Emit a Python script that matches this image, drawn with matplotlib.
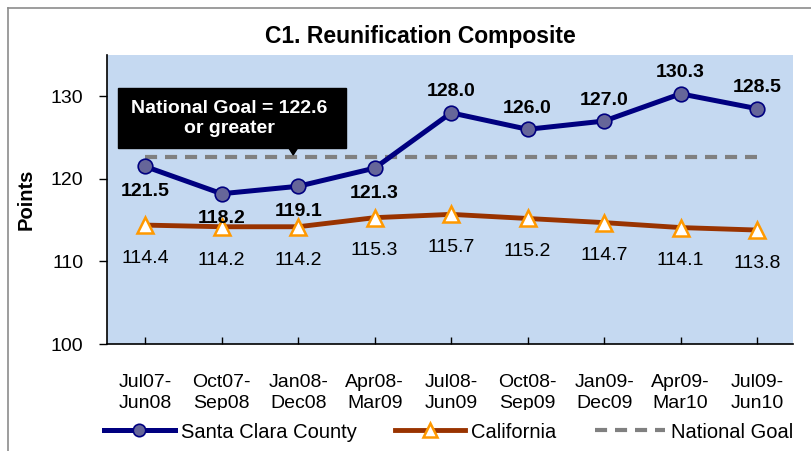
import numpy as np
import matplotlib.pyplot as plt
from matplotlib.patches import Polygon, Rectangle
from matplotlib.lines import Line2D

plt.rcParams['font.family'] = ['Liberation Sans', 'DejaVu Sans']

periods = ['Jul07-\nJun08', 'Oct07-\nSep08', 'Jan08-\nDec08', 'Apr08-\nMar09', 'Jul08-\nJun09',
           'Oct08-\nSep09', 'Jan09-\nDec09', 'Apr09-\nMar10', 'Jul09-\nJun10']
santa_clara = [121.5, 118.2, 119.1, 121.3, 128.0, 126.0, 127.0, 130.3, 128.5]
california = [114.4, 114.2, 114.2, 115.3, 115.7, 115.2, 114.7, 114.1, 113.8]
national_goal = 122.6

x = np.arange(len(periods))

fig = plt.figure(figsize=(8.12, 4.51), dpi=100)
W, H = 812, 451
# plot area in pixels: left 107, right 793, top 55, bottom 344
ax = fig.add_axes([107 / W, 1 - 344 / H, (793 - 107) / W, (344 - 55) / H])
ax.set_facecolor('#C5D9F1')

# chart border (gray frame of the chart object)
fig.add_artist(Line2D([8 / W, 8 / W], [0, 1 - 8 / H], color='#8C8C8C', lw=1.2, zorder=20))
fig.add_artist(Line2D([8 / W, 1], [1 - 8 / H, 1 - 8 / H], color='#8C8C8C', lw=1.2, zorder=20))

ax.plot(x, [national_goal] * len(x), color='#808080', lw=3, ls=(0, (2.9, 1.9)),
        label='National Goal', zorder=2)
ax.plot(x, california, color='#993300', lw=3.5, marker='^', ms=12,
        mfc='white', mec='#FF9900', mew=1.8, label='California', zorder=3)
ax.plot(x, santa_clara, color='#000080', lw=3.6, marker='o', ms=10.5,
        mfc='#666699', mec='#000080', mew=1.2, label='Santa Clara County', zorder=4)

for i, v in enumerate(santa_clara):
    if i < 4:
        ax.annotate(f'{v:.1f}', (i, v), xytext=(0, -12), textcoords='offset points',
                    ha='center', va='top', fontsize=14, fontweight='bold')
    else:
        ax.annotate(f'{v:.1f}', (i, v), xytext=(0, 9), textcoords='offset points',
                    ha='center', va='bottom', fontsize=14, fontweight='bold')

for i, v in enumerate(california):
    ax.annotate(f'{v:.1f}', (i, v), xytext=(0, -24), textcoords='offset points',
                ha='center', va='center', fontsize=14)

# callout box for the national goal
ax.add_patch(Rectangle((-0.353, 123.76), 2.98, 7.27, facecolor='black', edgecolor='black', zorder=5))
ax.add_patch(Polygon([[1.87, 123.85], [2.0, 123.85], [1.935, 122.9]], closed=True,
                     facecolor='black', edgecolor='black', zorder=5))
ax.text(1.1, 127.3, 'National Goal = 122.6\nor greater', color='white', ha='center',
        va='center', fontsize=14, fontweight='bold', linespacing=1.2, zorder=6)

ax.set_xlim(-0.5, 8.47)
ax.set_ylim(100, 135)
ax.set_yticks([100, 110, 120, 130])
ax.set_xticks(x)
ax.set_xticklabels(periods, fontsize=14, linespacing=1.35)
ax.tick_params(axis='y', labelsize=14, length=6, width=1, pad=11)
ax.tick_params(axis='x', length=5, width=1, direction='in', pad=21.5)
for s in ['top', 'right']:
    ax.spines[s].set_visible(False)
ax.spines['left'].set_linewidth(1.2)
ax.spines['bottom'].set_linewidth(1.2)

ax.set_ylabel('Points', fontsize=14.5, fontweight='bold', labelpad=11)
fig.text(420 / W, 1 - 37 / H, 'C1. Reunification Composite', ha='center', va='center',
         fontsize=16.5, fontweight='bold')

# the legend row hides the lower part of the two-line category labels
fig.add_artist(Rectangle((9 / W, 0), 1, (H - 410) / H, transform=fig.transFigure,
                         facecolor='white', edgecolor='none', zorder=8))

handles, labels = ax.get_legend_handles_labels()
order = [2, 1, 0]
leg = fig.legend([handles[i] for i in order], [labels[i] for i in order],
                 loc='center', bbox_to_anchor=(449 / W, 1 - 432 / H), ncol=3,
                 frameon=False, fontsize=14.5, handlelength=3.5, columnspacing=1.9,
                 handletextpad=0.3, borderpad=0.2, markerscale=0.85)
leg.set_zorder(10)

fig.savefig('out.png', dpi=100)
